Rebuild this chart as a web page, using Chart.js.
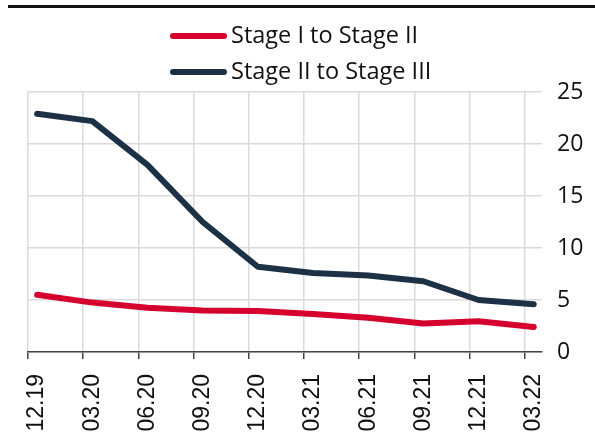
<!DOCTYPE html>
<html>
<head>
<meta charset="utf-8">
<script src="https://cdn.jsdelivr.net/npm/chart.js@4"></script>
<style>
  html, body { margin: 0; padding: 0; background: #fff; }
  #wrap { position: relative; width: 595px; height: 432px; }
  #topRule { position: absolute; left: 8px; right: 0; top: 5px; height: 3px; background: #111; }
</style>
</head>
<body>
<div id="wrap">
  <canvas id="stageChart" width="595" height="432"></canvas>
  <div id="topRule"></div>
</div>
<script>
// Data
const categories = ['12.19', '03.20', '06.20', '09.20', '12.20', '03.21', '06.21', '09.21', '12.21', '03.22'];
const stage1to2 = [5.5, 4.75, 4.25, 4.0, 3.95, 3.65, 3.3, 2.75, 2.95, 2.4];
const stage2to3 = [22.9, 22.2, 18.0, 12.5, 8.2, 7.6, 7.35, 6.8, 5.0, 4.6];
const yTicks = [0, 5, 10, 15, 20, 25];

const RED = '#d5002e';
const NAVY = '#1c3146';
const GRID = '#dadada';

// x range: points sit a bit right of the grid lines
const X_MIN = -0.165;
const X_MAX = 9.15;
const GRID_SHIFT = -0.165;

// Legend drawn by hand: two left-aligned rows, symbol right against the text
const stackedLegend = {
    id: 'stackedLegend',
    afterDraw(chart) {
        const c = chart.ctx;
        const left = 173, right = 224, textX = 231;
        const rowY = [36, 72];
        c.save();
        c.font = '23.5px "Open Sans"';
        c.textBaseline = 'middle';
        c.textAlign = 'left';
        chart.data.datasets.forEach((ds, i) => {
            c.strokeStyle = ds.borderColor;
            c.lineWidth = 6;
            c.lineCap = 'round';
            c.beginPath();
            c.moveTo(left, rowY[i]);
            c.lineTo(right, rowY[i]);
            c.stroke();
            c.fillStyle = '#111';
            c.fillText(ds.label, textX, rowY[i]);
        });
        c.restore();
    }
};

const toPoints = arr => arr.map((v, i) => ({ x: i, y: v }));

const ctx = document.getElementById('stageChart').getContext('2d');
new Chart(ctx, {
    type: 'line',
    data: {
        datasets: [
            { label: 'Stage I to Stage II', data: toPoints(stage1to2), borderColor: RED, backgroundColor: RED,
              borderWidth: 6, borderCapStyle: 'round', borderJoinStyle: 'round', pointRadius: 0, tension: 0, xAxisID: 'x', yAxisID: 'y' },
            { label: 'Stage II to Stage III', data: toPoints(stage2to3), borderColor: NAVY, backgroundColor: NAVY,
              borderWidth: 6, borderCapStyle: 'round', borderJoinStyle: 'round', pointRadius: 0, tension: 0, xAxisID: 'x', yAxisID: 'y' }
        ]
    },
    plugins: [stackedLegend],
    options: {
        responsive: false,
        animation: false,
        layout: { padding: { top: 92, left: 28, right: 0, bottom: 0 } },
        plugins: {
            tooltip: { enabled: false },
            legend: { display: false }
        },
        scales: {
            xg: {
                type: 'linear',
                position: 'bottom',
                weight: 0,
                min: X_MIN,
                max: X_MAX,
                afterBuildTicks: axis => { axis.ticks = categories.map((c, i) => ({ value: i + GRID_SHIFT })); },
                ticks: { display: false },
                grid: { color: GRID, lineWidth: 1.5, drawTicks: true, tickLength: 7, tickColor: '#444', tickWidth: 1.5 },
                border: { display: true, color: '#444', width: 1.5 }
            },
            x: {
                type: 'linear',
                position: 'bottom',
                weight: 1,
                min: X_MIN,
                max: X_MAX,
                afterBuildTicks: axis => { axis.ticks = categories.map((c, i) => ({ value: i })); },
                afterFit: axis => { axis.height = 73; },
                ticks: {
                    autoSkip: false,
                    minRotation: 90,
                    maxRotation: 90,
                    padding: 7,
                    color: '#111',
                    font: { family: '"Liberation Sans"', size: 23 },
                    callback: v => categories[v]
                },
                grid: { display: false },
                border: { display: false }
            },
            y: {
                position: 'right',
                min: 0,
                max: 25,
                afterBuildTicks: axis => { axis.ticks = yTicks.map(v => ({ value: v })); },
                afterFit: axis => { axis.width = 53; },
                ticks: { padding: 15, color: '#111', font: { family: '"Open Sans"', size: 23 } },
                grid: { color: GRID, lineWidth: 1.5, drawTicks: false },
                border: { display: false }
            }
        }
    }
});
</script>
</body>
</html>
